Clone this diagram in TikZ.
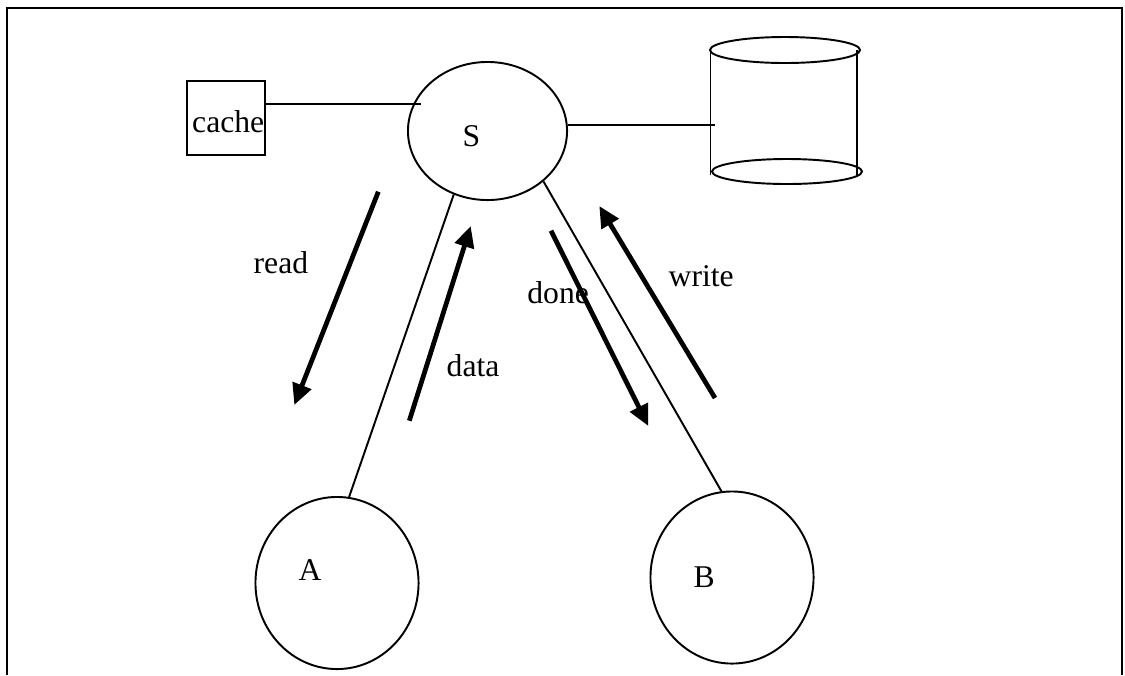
\documentclass[tikz,border=0pt]{standalone}
\usepackage{fontspec}
\setmainfont{Liberation Serif}
\usetikzlibrary{arrows.meta,shapes.geometric}

\tikzset{
  thin line/.style={line width=0.55pt},
  frame line/.style={line width=0.8pt},
  flow/.style={line width=1.35pt, -{Triangle[length=6pt,width=5.5pt]}},
  txt/.style={inner sep=0pt, anchor=base west, font=\fontsize{9}{11}\selectfont},
  proc/.style={ellipse, draw, thin line, inner sep=0pt},
}

\begin{document}
\begin{tikzpicture}[x=0.01cm, y=-0.01cm]
  \useasboundingbox (0,0) rectangle (1125,675);

  % open frame (no bottom edge)
  \draw[frame line] (7,675) -- (7,8) -- (1122,8) -- (1122,675);

  % server, clients and cache
  \node[proc, minimum width=1.59cm, minimum height=1.38cm] (S) at (487.5,131) {};
  \node[proc, minimum width=1.63cm, minimum height=1.72cm] (A) at (337,583) {};
  \node[proc, minimum width=1.63cm, minimum height=1.72cm] (B) at (732,577.5) {};
  \node[draw, thin line, minimum width=0.78cm, minimum height=0.74cm, inner sep=0pt] (cache) at (226,118) {};

  \node[txt] (Slbl) at (462,146) {S};
  \node[txt] (Albl) at (298,580.8) {A};
  \node[txt] (Blbl) at (693,587.7) {B};
  \node[txt] (cachelbl) at (191.5,132) {cache};

  % disk store
  \begin{scope}[thin line]
    \draw (785,50) ellipse [x radius=75, y radius=13];
    \draw (787,171.5) ellipse [x radius=75, y radius=12.5];
    \draw (710.5,50) -- (710.5,175);
    \draw (857,50) -- (857,177);
  \end{scope}
  \coordinate (dbL) at (715,125);
  \coordinate (cacheS) at (421,104);

  % links
  \draw[thin line] (cache.east |- cacheS) -- (cacheS);
  \draw[thin line] (S.east |- dbL) -- (dbL);
  \draw[thin line] (S.242) -- (A.82);
  \draw[thin line] (S.318) -- (B.97);

  % message arrows
  \coordinate (r1) at (378.3,191.7); \coordinate (r2) at (294.3,405);
  \coordinate (d1) at (409.3,420.7); \coordinate (d2) at (470.7,226);
  \coordinate (n1) at (551,230.7);   \coordinate (n2) at (648.3,426);
  \coordinate (w1) at (715,398);     \coordinate (w2) at (599.3,206);
  \draw[flow] (r1) -- (r2);
  \draw[flow] (d1) -- (d2);
  \draw[flow] (n1) -- (n2);
  \draw[flow] (w1) -- (w2);

  \node[txt] (readlbl) at (253,273.3) {read};
  \node[txt] (datalbl) at (446,376.7) {data};
  \node[txt] (donelbl) at (526.7,303.3) {done};
  \node[txt] (writelbl) at (668,286.7) {write};
\end{tikzpicture}
\end{document}
